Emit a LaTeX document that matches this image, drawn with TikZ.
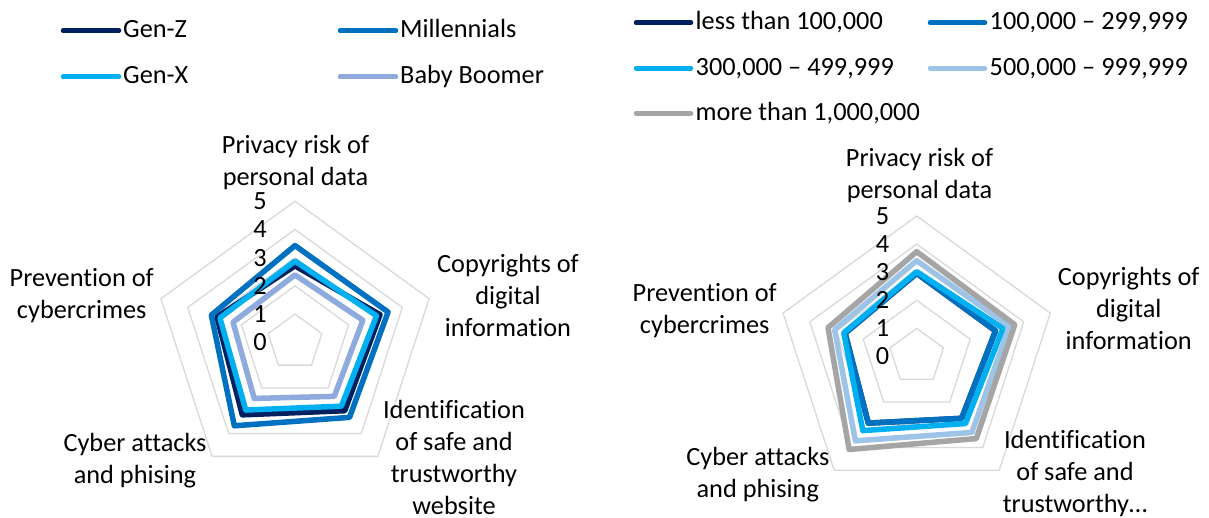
\documentclass[tikz,border=0pt]{standalone}
\usepackage{fontspec}
\setmainfont{Carlito}[Ligatures=NoCommon]
\definecolor{cnavy}{HTML}{002060}
\definecolor{cmid}{HTML}{0070C0}
\definecolor{clight}{HTML}{00B0F0}
\definecolor{cboom}{HTML}{8FAADC}
\definecolor{csteel}{HTML}{9DC3E6}
\definecolor{cgray}{HTML}{A5A5A5}
\definecolor{cgrid}{HTML}{D9D9D9}
\newcommand\rpoly[7]{\draw[#1] (-90:{#2*#3}) -- (-18:{#2*#4}) -- (54:{#2*#5}) -- (126:{#2*#6}) -- (198:{#2*#7}) -- cycle;}
\begin{document}
\begin{tikzpicture}[x=1pt,y=-1pt,
  font=\fontsize{26.3}{32}\selectfont,
  lbl/.style={align=center, anchor=base, inner sep=0pt},
  num/.style={anchor=east, inner sep=0pt},
  legtext/.style={anchor=base west, inner sep=0pt},
  legline/.style={line width=4.5pt, line cap=round},
  series/.style={line width=5.5pt, line join=round},
  gridline/.style={draw=cgrid, line width=1.3pt}]
\useasboundingbox (0,0) rectangle (1209,518);
\fill[white] (0,0) rectangle (1209,518);

% ---------- left legend ----------
\draw[legline, cnavy] (63,30.7) -- (119,30.7);
\node[legtext] (lgz) at (123,38) {Gen-Z};
\draw[legline, cmid] (340,30.7) -- (396,30.7);
\node[legtext] (lmil) at (400,38) {Millennials};
\draw[legline, clight] (63,76.7) -- (119,76.7);
\node[legtext] (lgx) at (123,84) {Gen-X};
\draw[legline, cboom] (340,76.7) -- (396,76.7);
\node[legtext] (lbb) at (400,84) {Baby Boomer};

% ---------- right legend ----------
\draw[legline, cnavy] (636,22.7) -- (691,22.7);
\node[legtext] (r1) at (695.5,30) {less than 100,000};
\draw[legline, cmid] (930,22.7) -- (985,22.7);
\node[legtext] (r2) at (989.5,30) {100,000 – 299,999};
\draw[legline, clight] (636,68.3) -- (691,68.3);
\node[legtext] (r3) at (695.5,75.6) {300,000 – 499,999};
\draw[legline, csteel] (930,68.3) -- (985,68.3);
\node[legtext] (r4) at (989.5,75.6) {500,000 – 999,999};
\draw[legline, cgray] (636,113.3) -- (691,113.3);
\node[legtext] (r5) at (695.5,120.6) {more than 1,000,000};

% ---------- left radar ----------
\begin{scope}[shift={(295,342.3)}]
  \foreach \k in {1,...,5} {\rpoly{gridline}{28.2}{\k}{\k}{\k}{\k}{\k}}
  \rpoly{series, cnavy}{28.2}{2.71}{3.17}{3.00}{3.18}{2.91}
  \rpoly{series, cmid}{28.2}{3.43}{3.47}{3.29}{3.66}{3.12}
  \rpoly{series, clight}{28.2}{2.88}{3.04}{2.80}{2.97}{2.80}
  \rpoly{series, cboom}{28.2}{2.39}{2.53}{2.37}{2.46}{2.31}
\end{scope}
\foreach \k in {0,...,5} {\node[num] (ln\k) at (267,{342.3-28.2*\k}) {\k};}
\node[lbl] (lpriv) at (295.5,185.3) {Privacy risk of\\personal data};
\node[lbl] (lcopy) at (508,336.3) {Copyrights of\\digital\\information};
\node[lbl] (lident) at (454,514.5) {Identification\\of safe and\\trustworthy\\website};
\node[lbl] (lcyber) at (135,483) {Cyber attacks\\and phising};
\node[lbl] (lprev) at (81.7,318.7) {Prevention of\\cybercrimes};

% ---------- right radar ----------
\begin{scope}[shift={(916.7,356.5)}]
  \foreach \k in {1,...,5} {\rpoly{gridline}{28.1}{\k}{\k}{\k}{\k}{\k}}
  \rpoly{series, cnavy}{28.1}{2.96}{2.95}{2.72}{2.93}{2.68}
  \rpoly{series, cmid}{28.1}{2.96}{2.95}{2.72}{2.93}{2.68}
  \rpoly{series, clight}{28.1}{3.02}{3.23}{2.95}{3.26}{2.73}
  \rpoly{series, csteel}{28.1}{3.41}{3.47}{3.34}{3.71}{3.07}
  \rpoly{series, cgray}{28.1}{3.73}{3.67}{3.61}{4.09}{3.32}
\end{scope}
\foreach \k in {0,...,5} {\node[num] (rn\k) at (889.3,{356.5-28.1*\k}) {\k};}
\node[lbl] (rpriv) at (919.5,198.7) {Privacy risk of\\personal data};
\node[lbl] (rcopy) at (1128.7,349) {Copyrights of\\digital\\information};
\node[lbl] (rident) at (1075,512.3) {Identification\\of safe and\\trustworthy…};
\node[lbl] (rcyber) at (757.8,497) {Cyber attacks\\and phising};
\node[lbl] (rprev) at (704.7,333.7) {Prevention of\\cybercrimes};
\end{tikzpicture}
\end{document}
